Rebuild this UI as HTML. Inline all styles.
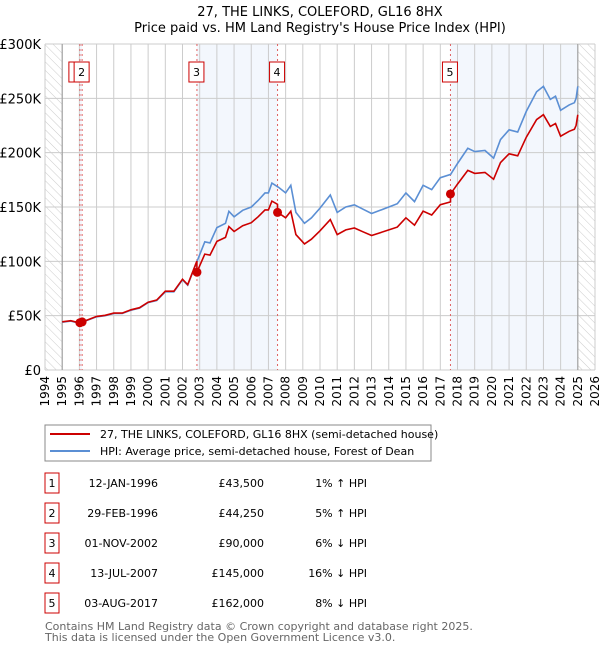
<!DOCTYPE html>
<html><head><meta charset="utf-8"><style>
body{margin:0;background:#fff;font-family:"DejaVu Sans","Liberation Sans",sans-serif;}
svg text{font-family:"DejaVu Sans","Liberation Sans",sans-serif;}
</style></head><body>
<svg id="chart" width="600" height="650" xmlns="http://www.w3.org/2000/svg">
<defs><pattern id="hatch" width="6" height="6" patternUnits="userSpaceOnUse" patternTransform="rotate(-45)"><line x1="0" y1="0" x2="0" y2="6" stroke="#ccc" stroke-width="1"/></pattern></defs>
<text x="320" y="16" text-anchor="middle" font-size="13">27, THE LINKS, COLEFORD, GL16 8HX</text>
<text x="320" y="32" text-anchor="middle" font-size="13">Price paid vs. HM Land Registry's House Price Index (HPI)</text>
<g id="bg"></g><g id="grid"></g><g id="lines"></g><g id="marks"></g><g id="axes"></g>
<rect x="45" y="425" width="386" height="36" fill="#fff" stroke="#888"/>
<line x1="50" y1="434" x2="90" y2="434" stroke="#cc0000" stroke-width="2"/>
<text x="100" y="438" font-size="11">27, THE LINKS, COLEFORD, GL16 8HX (semi-detached house)</text>
<line x1="50" y1="451" x2="90" y2="451" stroke="#5b8fd4" stroke-width="2"/>
<text x="100" y="455" font-size="11">HPI: Average price, semi-detached house, Forest of Dean</text>
<g id="table" font-size="11"></g>
<text x="45" y="630" font-size="11" fill="#666">Contains HM Land Registry data © Crown copyright and database right 2025.</text>
<text x="45" y="641" font-size="11" fill="#666">This data is licensed under the Open Government Licence v3.0.</text>
</svg>
<script>
const hpiYears=[1995,1995.5,1996,1996.5,1997,1997.5,1998,1998.5,1999,1999.5,2000,2000.5,2001,2001.5,2002,2002.3,2002.8,2003.3,2003.6,2004,2004.5,2004.7,2005,2005.5,2006,2006.4,2006.8,2007,2007.2,2007.6,2008,2008.3,2008.6,2009.1,2009.5,2010,2010.6,2011,2011.5,2012,2012.5,2013,2013.5,2014,2014.5,2015,2015.5,2016,2016.5,2017,2017.6,2018,2018.6,2019,2019.6,2020.1,2020.5,2021,2021.5,2022,2022.6,2023,2023.4,2023.7,2024,2024.5,2024.8,2024.9,2025];
const hpiValues=[44,45,43,46,49,50,52,52,55,57,62,64,72,72,83,78,98,118,117,131,135,146,141,147,150,156,163,163,172,168,163,170,145,135,140,149,161,145,150,152,148,144,147,150,153,163,155,170,166,177,180,190,204,201,202,195,212,221,219,238,256,261,249,252,239,244,246,250,261];
const saleDates=[1996.03,1996.16,2002.84,2007.53,2017.59];
const salePrices=[43500,44250,90000,145000,162000];
const saleLabels=["1","2","3","4","5"];
const saleDateText=["12-JAN-1996","29-FEB-1996","01-NOV-2002","13-JUL-2007","03-AUG-2017"];
const salePriceText=["£43,500","£44,250","£90,000","£145,000","£162,000"];
const salePctText=["1% ↑ HPI","5% ↑ HPI","6% ↓ HPI","16% ↓ HPI","8% ↓ HPI"];
const yTicks=[0,50,100,150,200,250,300];
const yTickLabels=["£0","£50K","£100K","£150K","£200K","£250K","£300K"];
const xTicks=[1994,1995,1996,1997,1998,1999,2000,2001,2002,2003,2004,2005,2006,2007,2008,2009,2010,2011,2012,2013,2014,2015,2016,2017,2018,2019,2020,2021,2022,2023,2024,2025,2026];

const NS="http://www.w3.org/2000/svg";
const X0=45,X1=595,Y0=370,Y1=44;
function xs(t){return X0+(t-1994)/(2026-1994)*(X1-X0);}
function ys(v){return Y0-v/300*(Y0-Y1);}
function mk(parent,tag,attrs){const e=document.createElementNS(NS,tag);for(const k in attrs)e.setAttribute(k,attrs[k]);document.getElementById(parent).appendChild(e);return e;}
function hpiAt(t){for(let i=0;i<hpiYears.length-1;i++){if(t<=hpiYears[i+1]){const f=(t-hpiYears[i])/(hpiYears[i+1]-hpiYears[i]);return hpiValues[i]+f*(hpiValues[i+1]-hpiValues[i]);}}return hpiValues[hpiValues.length-1];}

// background
let r=mk('bg','rect',{x:X0,y:Y1,width:X1-X0,height:Y0-Y1,fill:'#fff'});

r=mk('bg','rect',{x:X0,y:Y1,width:xs(1995)-X0,height:Y0-Y1,fill:'url(#hatch)'});

r=mk('bg','rect',{x:xs(2025),y:Y1,width:X1-xs(2025),height:Y0-Y1,fill:'url(#hatch)'});

const bandStarts=[0,2,4];
bandStarts.forEach(i=>{const a=saleDates[i],b=i+1<saleDates.length?saleDates[i+1]:2025;
 const e=mk('bg','rect',{x:xs(a),y:Y1,width:xs(b)-xs(a),height:Y0-Y1,fill:'#eef3fc',opacity:0.7});
 });
// grid
xTicks.forEach((t,i)=>{const l=mk('grid','line',{x1:xs(t),x2:xs(t),y1:Y1,y2:Y0,stroke:'#ccc','stroke-width':1});
 
 const tx=mk('axes','text',{x:0,y:0,'font-size':12,'text-anchor':'end',transform:`translate(${xs(t)+4},376) rotate(-90)`});
 tx.textContent=t;});
yTicks.forEach((v,i)=>{const l=mk('grid','line',{x1:X0,x2:X1,y1:ys(v),y2:ys(v),stroke:'#ccc','stroke-width':1});
 
 const tx=mk('axes','text',{x:41,y:ys(v)+5,'font-size':13,'text-anchor':'end'});
 tx.textContent=yTickLabels[i];});
let e=mk('grid','line',{x1:xs(1995),x2:xs(1995),y1:Y1,y2:Y0,stroke:'#999'});

e=mk('grid','line',{x1:xs(2025),x2:xs(2025),y1:Y1,y2:Y0,stroke:'#999'});

// sale vlines
saleDates.forEach((d,i)=>{const l=mk('grid','line',{x1:xs(d),x2:xs(d),y1:Y1,y2:Y0,stroke:'#e06060','stroke-dasharray':'2,3','stroke-width':1});
 });
// HPI line
let p=hpiYears.map((t,i)=>(i?'L':'M')+xs(t).toFixed(1)+','+ys(hpiValues[i]).toFixed(1)).join('');
e=mk('lines','path',{d:p,fill:'none',stroke:'#5b8fd4','stroke-width':1.6});

// price line (HPI-indexed from each sale)
function seg(t){let k=0;for(let i=0;i<saleDates.length;i++)if(t>=saleDates[i])k=i;return k;}
const pts=[];const allT=hpiYears.concat(saleDates).sort((a,b)=>a-b);
allT.forEach(t=>{const k=seg(t);pts.push([t,salePrices[k]/1000*hpiAt(t)/hpiAt(saleDates[k])]);
 const nk=k+1;});
let d='';let prevK=null;
allT.forEach(t=>{const k=seg(t);const v=salePrices[k]/1000*hpiAt(t)/hpiAt(saleDates[k]);
 if(prevK!==null&&k!==prevK){const vb=salePrices[prevK]/1000*hpiAt(t)/hpiAt(saleDates[prevK]);d+='L'+xs(t).toFixed(1)+','+ys(vb).toFixed(1);}
 d+=(d?'L':'M')+xs(t).toFixed(1)+','+ys(v).toFixed(1);prevK=k;});
e=mk('lines','path',{d:d,fill:'none',stroke:'#cc0000','stroke-width':1.6});

// sale points and boxes
saleDates.forEach((dt,i)=>{const c=mk('marks','circle',{cx:xs(dt),cy:ys(salePrices[i]/1000),r:4.5,fill:'#cc0000'});
 
 const bx=xs(dt)-(i===0?9:8)-(i===0?2:0);
 const b=mk('marks','rect',{x:bx,y:62,width:15,height:20,fill:'#fff',stroke:'#cc0000'});
 
 const t=mk('marks','text',{x:bx+7.5,y:76,'font-size':11,'text-anchor':'middle'});t.textContent=saleLabels[i];
 });
// table
saleLabels.forEach((s,i)=>{const cy=483+i*30;
 let b=mk('table','rect',{x:45,y:cy-10,width:14,height:20,fill:'#fff',stroke:'#cc0000'});
 
 let t=mk('table','text',{x:52,y:cy+4,'text-anchor':'middle'});t.textContent=s;
 
 t=mk('table','text',{x:158,y:cy+4,'text-anchor':'end'});t.textContent=saleDateText[i];
 
 t=mk('table','text',{x:264,y:cy+4,'text-anchor':'end'});t.textContent=salePriceText[i];
 
 t=mk('table','text',{x:367,y:cy+4,'text-anchor':'end'});t.textContent=salePctText[i];
 });
</script>
</body></html>
